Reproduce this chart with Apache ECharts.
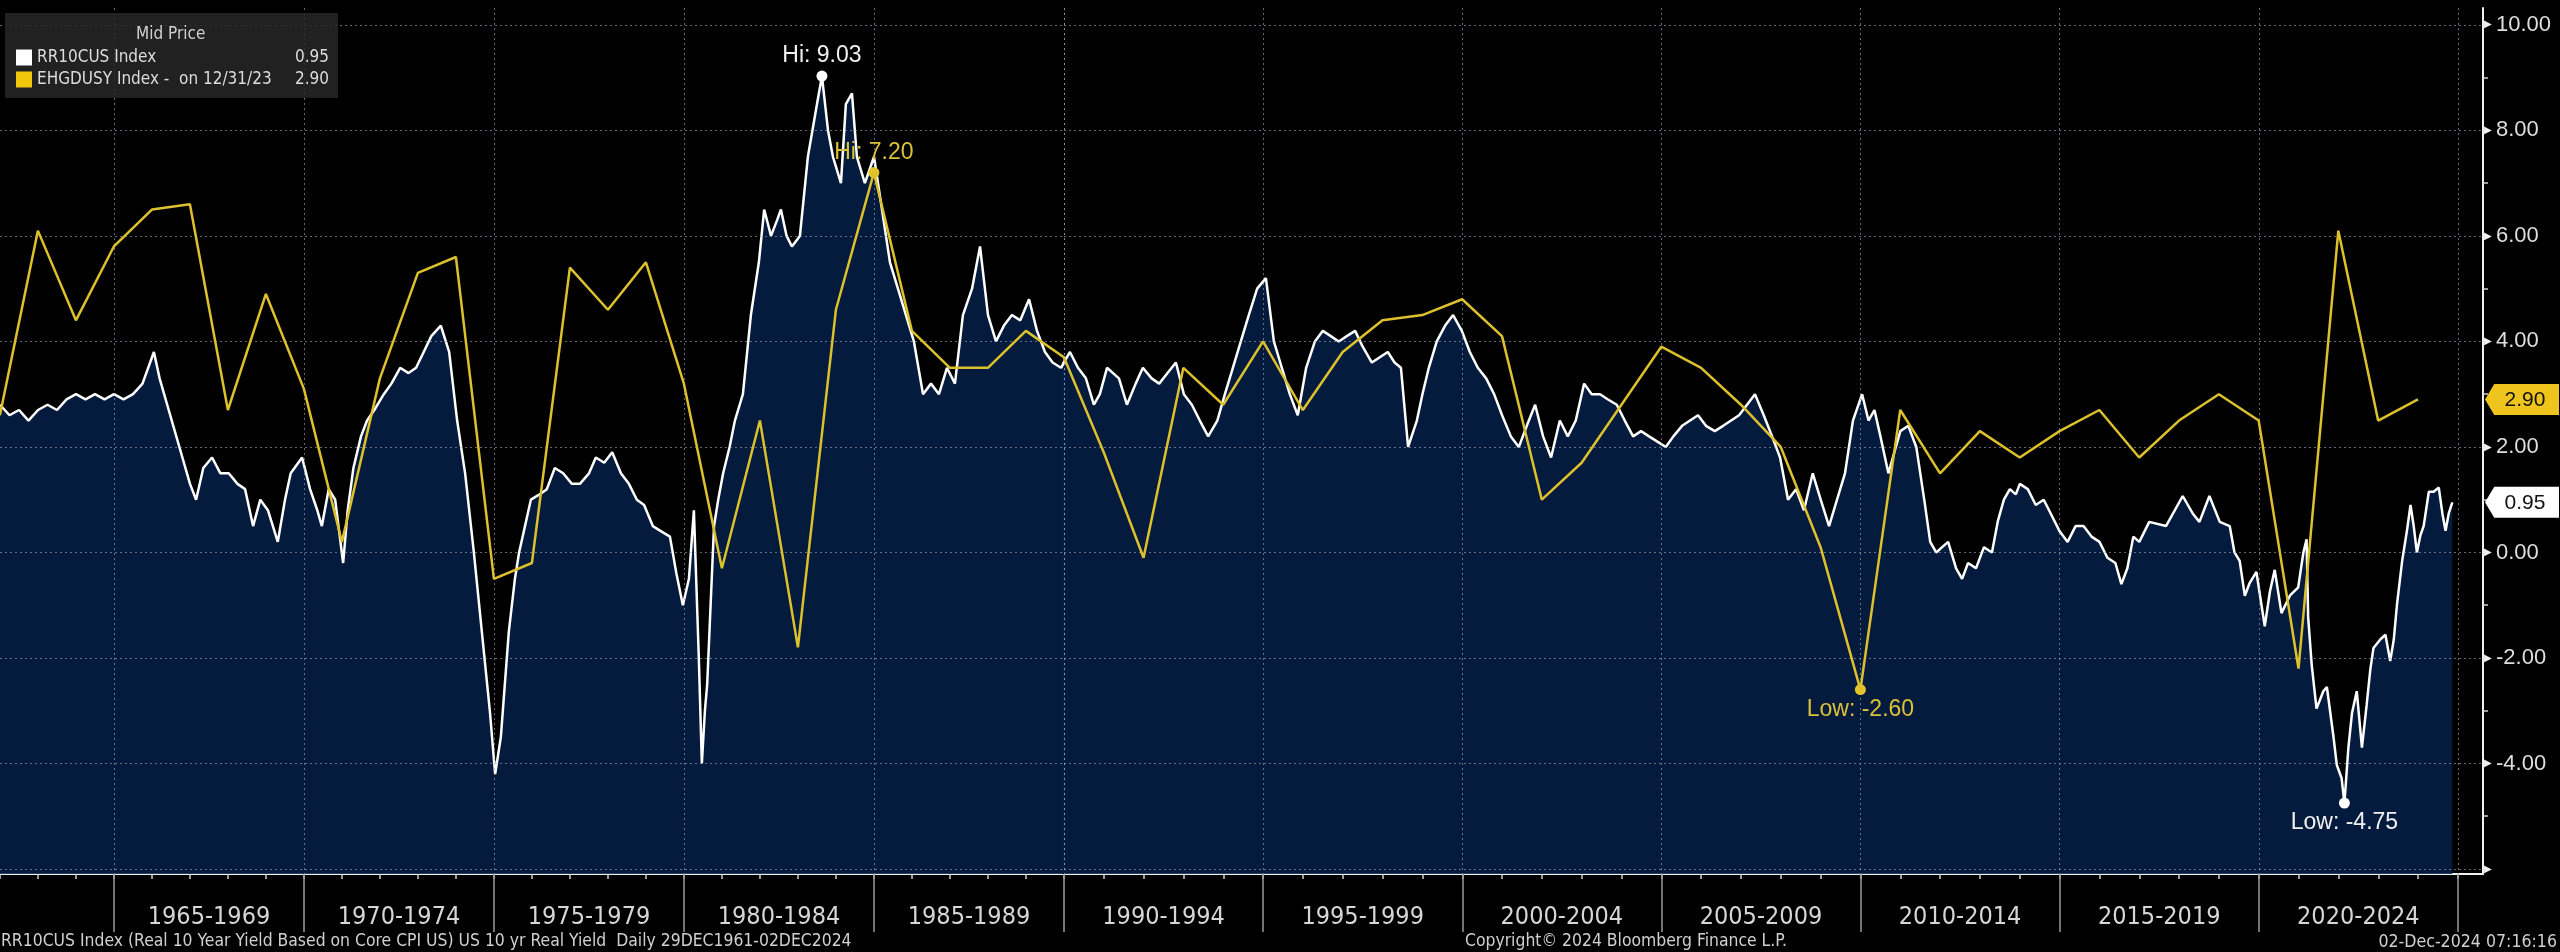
<!DOCTYPE html>
<html><head><meta charset="utf-8">
<script src="https://cdn.jsdelivr.net/npm/echarts@6/dist/echarts.min.js"></script>
<style>html,body{margin:0;padding:0;background:#000}#c{width:2560px;height:952px}</style>
</head><body><div id="c"></div>
<script>
// ---------- DATA ----------
const rrName = 'RR10CUS Index';
const gdpName = 'EHGDUSY Index -  on 12/31/23';
// RR10CUS: dates as decimal years
const rrDates = [
1962.00,1962.25,1962.50,1962.75,1963.00,1963.25,1963.50,1963.75,1964.00,1964.25,1964.50,1964.75,
1965.00,1965.25,1965.50,1965.75,1966.05,1966.20,1966.40,1966.60,1966.80,1967.00,1967.16,1967.35,
1967.58,1967.80,1968.02,1968.25,1968.45,1968.66,1968.85,1969.05,1969.31,1969.50,1969.65,1969.95,
1970.16,1970.35,1970.47,1970.65,1970.82,1971.03,1971.15,1971.30,1971.50,1971.66,1971.85,1972.10,
1972.30,1972.53,1972.75,1972.95,1973.15,1973.35,1973.60,1973.82,1974.03,1974.24,1974.47,1974.68,
1974.89,1975.03,1975.18,1975.39,1975.55,1975.66,1975.97,1976.20,1976.39,1976.60,1976.82,1977.05,
1977.26,1977.50,1977.68,1977.90,1978.11,1978.34,1978.55,1978.76,1978.95,1979.18,1979.40,1979.63,
1979.80,1979.97,1980.13,1980.26,1980.39,1980.47,1980.55,1980.61,1980.79,1980.90,1981.03,1981.20,
1981.34,1981.55,1981.76,1981.97,1982.11,1982.29,1982.45,1982.55,1982.70,1982.84,1983.05,1983.26,
1983.50,1983.63,1983.79,1983.92,1984.13,1984.26,1984.42,1984.55,1984.76,1985.00,1985.21,1985.42,
1985.63,1985.84,1986.05,1986.29,1986.50,1986.71,1986.92,1987.13,1987.34,1987.58,1987.79,1988.00,
1988.21,1988.42,1988.63,1988.85,1989.08,1989.29,1989.50,1989.70,1989.92,1990.15,1990.35,1990.55,
1990.75,1990.90,1991.08,1991.38,1991.58,1991.80,1991.98,1992.20,1992.39,1992.60,1992.81,1993.01,
1993.21,1993.41,1993.62,1993.85,1994.04,1994.24,1994.44,1994.64,1994.85,1995.07,1995.27,1995.47,
1995.67,1995.87,1996.08,1996.30,1996.50,1996.70,1996.90,1997.10,1997.31,1997.50,1997.73,1997.93,
1998.13,1998.30,1998.46,1998.64,1998.86,1999.00,1999.16,1999.36,1999.57,1999.77,1999.99,2000.19,
2000.39,2000.60,2000.80,2001.00,2001.22,2001.42,2001.62,2001.83,2002.03,2002.23,2002.45,2002.65,
2002.85,2003.06,2003.25,2003.46,2003.66,2003.88,2004.08,2004.29,2004.49,2004.69,2004.90,2005.11,
2005.30,2005.52,2005.72,2005.92,2006.12,2006.34,2006.55,2006.75,2006.95,2007.15,2007.35,2007.57,
2007.78,2007.98,2008.18,2008.38,2008.58,2008.80,2009.00,2009.21,2009.41,2009.61,2009.81,2010.04,
2010.20,2010.35,2010.50,2010.70,2010.85,2011.00,2011.20,2011.40,2011.60,2011.75,2011.90,2012.05,
2012.20,2012.40,2012.55,2012.70,2012.90,2013.10,2013.30,2013.45,2013.60,2013.75,2013.90,2014.00,
2014.20,2014.40,2014.60,2014.80,2015.00,2015.20,2015.40,2015.60,2015.80,2016.00,2016.20,2016.40,
2016.55,2016.70,2016.85,2017.00,2017.25,2017.67,2018.09,2018.34,2018.51,2018.76,2019.02,2019.27,
2019.39,2019.52,2019.65,2019.77,2019.94,2020.15,2020.28,2020.40,2020.57,2020.78,2020.99,2021.12,
2021.20,2021.24,2021.33,2021.45,2021.62,2021.71,2021.87,2021.96,2022.08,2022.15,2022.25,2022.34,
2022.46,2022.59,2022.71,2022.80,2022.88,2023.05,2023.18,2023.30,2023.39,2023.47,2023.60,2023.72,
2023.81,2023.89,2023.97,2024.06,2024.14,2024.27,2024.39,2024.52,2024.61,2024.69,2024.77,2024.86
];
const rrValues = [
2.8,2.6,2.7,2.5,2.7,2.8,2.7,2.9,3.0,2.9,3.0,2.9,
3.0,2.9,3.0,3.2,3.8,3.3,2.8,2.3,1.8,1.3,1.0,1.6,
1.8,1.5,1.5,1.3,1.2,0.5,1.0,0.8,0.2,1.0,1.5,1.8,
1.2,0.8,0.5,1.2,1.0,-0.2,0.8,1.6,2.2,2.5,2.7,3.0,
3.2,3.5,3.4,3.5,3.8,4.1,4.3,3.8,2.5,1.5,0.0,-1.5,
-3.0,-4.2,-3.5,-1.5,-0.5,0.0,1.0,1.1,1.2,1.6,1.5,1.3,
1.3,1.5,1.8,1.7,1.9,1.5,1.3,1.0,0.9,0.5,0.4,0.3,
-0.4,-1.0,-0.5,0.8,-2.0,-4.0,-3.0,-2.5,0.5,1.0,1.5,2.0,
2.5,3.0,4.5,5.5,6.5,6.0,6.3,6.5,6.0,5.8,6.0,7.5,
8.5,9.03,8.0,7.5,7.0,8.5,8.7,7.5,7.0,7.5,6.5,5.5,
5.0,4.5,4.0,3.0,3.2,3.0,3.5,3.2,4.5,5.0,5.8,4.5,
4.0,4.3,4.5,4.4,4.8,4.2,3.8,3.6,3.5,3.8,3.5,3.3,
2.8,3.0,3.5,3.3,2.8,3.2,3.5,3.3,3.2,3.4,3.6,3.0,
2.8,2.5,2.2,2.5,3.0,3.5,4.0,4.5,5.0,5.2,4.0,3.5,
3.0,2.6,3.5,4.0,4.2,4.1,4.0,4.1,4.2,3.9,3.6,3.7,
3.8,3.6,3.5,2.0,2.5,3.0,3.5,4.0,4.3,4.5,4.2,3.8,
3.5,3.3,3.0,2.6,2.2,2.0,2.4,2.8,2.2,1.8,2.5,2.2,
2.5,3.2,3.0,3.0,2.9,2.8,2.5,2.2,2.3,2.2,2.1,2.0,
2.2,2.4,2.5,2.6,2.4,2.3,2.4,2.5,2.6,2.8,3.0,2.6,
2.2,1.8,1.0,1.2,0.8,1.5,1.0,0.5,1.0,1.5,2.5,3.0,
2.5,2.7,2.2,1.5,1.9,2.3,2.4,2.0,1.0,0.2,0.0,0.1,
0.2,-0.3,-0.5,-0.2,-0.3,0.1,0.0,0.6,1.0,1.2,1.1,1.3,
1.2,0.9,1.0,0.7,0.4,0.2,0.5,0.5,0.3,0.2,-0.1,-0.2,
-0.6,-0.3,0.3,0.2,0.58,0.5,1.07,0.74,0.58,1.07,0.58,0.5,
0.0,-0.16,-0.82,-0.58,-0.37,-1.4,-0.74,-0.33,-1.15,-0.82,-0.66,0.0,
0.25,-1.23,-2.14,-2.96,-2.63,-2.55,-3.46,-4.03,-4.28,-4.75,-3.7,-3.05,
-2.63,-3.7,-2.88,-2.22,-1.81,-1.65,-1.56,-2.06,-1.65,-0.99,-0.16,0.41,
0.9,0.5,0.0,0.33,0.5,1.15,1.15,1.23,0.74,0.41,0.74,0.95
];
// EHGDUSY: annual values, each plotted on Dec 31 of its year
const gdpYears = [];
for (let y = 1961; y <= 2023; y++) gdpYears.push(y);
const gdpValues = [
2.6,6.1,4.4,5.8,6.5,6.6,2.7,4.9,3.1,0.2,3.3,5.3,5.6,-0.5,-0.2,5.4,4.6,5.5,3.2,-0.3,
2.5,-1.8,4.6,7.2,4.2,3.5,3.5,4.2,3.7,1.9,-0.1,3.5,2.8,4.0,2.7,3.8,4.4,4.5,4.8,4.1,
1.0,1.7,2.8,3.9,3.5,2.8,2.0,0.1,-2.6,2.7,1.5,2.3,1.8,2.3,2.7,1.8,2.5,3.0,2.5,-2.2,
6.1,2.5,2.9
];
const rangeLabels = ['1965-1969','1970-1974','1975-1979','1980-1984','1985-1989','1990-1994',
  '1995-1999','2000-2004','2005-2009','2010-2014','2015-2019','2020-2024'];
const yLabelValues = [-6,-4,-2,0,2,4,6,8,10];
const yMinorValues = [-5,-3,-1,1,3,5,7,9];

// ---------- LAYOUT / STYLE ----------
const NARROW = "'DejaVu Sans Condensed','Liberation Sans Narrow',sans-serif";
const SANS = "'Liberation Sans',Arial,sans-serif";
const SPLIT = 1990;
const X0_MIN = 1962, X1_MAX = 2025.63;
const Y_MIN = -6.095, Y_MAX = 10.32;
const TOP = 8, BOTTOM = 952 - 874;
const GRID_SPLIT_PX = 1064, RIGHT_PX = 2483;
const WHITE = '#ffffff', YELLOW = '#dcc12c', YELLOW_TAG = '#efc41c';
const GRIDLINE = {color: 'rgba(165,172,185,0.6)', type: [2, 3], width: 1};

const gdpDates = gdpYears.map(y => y + 364 / 365);
function part(xs, ys, lo, hi) {
  const out = [];
  const inR = i => i >= 0 && i < xs.length && xs[i] >= lo && xs[i] <= hi;
  for (let i = 0; i < xs.length; i++) {
    if (inR(i) || inR(i - 1) || inR(i + 1)) out.push([xs[i], ys[i]]);
  }
  return out;
}
const years0 = [], years1 = [];
for (let y = 1962; y <= 1990; y++) years0.push(y);
for (let y = 1990; y <= 2025; y++) years1.push(y);
const major0 = years0.filter(y => y % 5 === 0 && y >= 1965);
const major1 = years1.filter(y => y % 5 === 0);
const centers = rangeLabels.map(s => +s.slice(0, 4) + 2.5);
const centers0 = centers.filter(c => c < SPLIT), centers1 = centers.filter(c => c > SPLIT);
const labelFmt = v => rangeLabels[Math.round((v - centers[0]) / 5)];

const rrLast = rrValues[rrValues.length - 1];
const gdpLast = gdpValues[gdpValues.length - 1];

function minorAxis(gi, customValues) {
  return {
    type: 'value', gridIndex: gi, position: 'bottom',
    min: gi === 0 ? X0_MIN : SPLIT, max: gi === 0 ? SPLIT : X1_MAX,
    axisLine: {show: true, onZero: false, lineStyle: {color: '#f0f0f0', width: 2}},
    axisTick: {show: true, customValues, length: 5, lineStyle: {color: '#d0d0d0', width: 1.5}},
    axisLabel: {show: false}, splitLine: {show: false}
  };
}
function majorAxis(gi, tickValues, labelValues) {
  return {
    type: 'value', gridIndex: gi, position: 'bottom', z: 3,
    min: gi === 0 ? X0_MIN : SPLIT, max: gi === 0 ? SPLIT : X1_MAX,
    splitNumber: gi === 0 ? 6 : 7,
    axisLine: {show: false, onZero: false},
    axisTick: {show: true, customValues: tickValues, length: 58, lineStyle: {color: '#9a9a9a', width: 1.5}},
    axisLabel: {show: true, customValues: labelValues, formatter: labelFmt, margin: 31,
      color: '#d6d6d6', fontSize: 25, fontFamily: NARROW},
    splitLine: {show: true, lineStyle: GRIDLINE}
  };
}
function tagPoint(value, bg) {
  return {
    coord: [X1_MAX, value], value: value,
    symbol: 'path://M0,15 L10,0 L80,0 L80,30 L10,30 Z',
    symbolSize: [74, 31], symbolOffset: [39, 0],
    itemStyle: {color: bg},
    label: {show: true, position: 'inside', offset: [3, 1], formatter: value.toFixed(2),
      color: '#111', fontSize: 21, fontFamily: SANS}
  };
}
function hiLow(type, color, prefix, pos) {
  return {
    type, symbol: 'circle', symbolSize: 11, itemStyle: {color},
    label: {show: true, position: pos, distance: 3, color: color === WHITE ? '#f0f0f0' : '#d9c23a',
      fontSize: 23, fontFamily: SANS,
      formatter: p => prefix + p.value.toFixed(2)}
  };
}
const footStyle = size => ({color: '#d0d0d0', fontSize: size, fontWeight: 'normal', fontFamily: NARROW});

const chart = echarts.init(document.getElementById('c'), null, {renderer: 'canvas'});
chart.setOption({
  backgroundColor: '#000',
  animation: false,
  title: [
    {text: 'Mid Price', left: 136, top: 26, padding: 0, textStyle: footStyle(17)},
    {text: 'RR10CUS Index (Real 10 Year Yield Based on Core CPI US) US 10 yr Real Yield  Daily 29DEC1961-02DEC2024',
      left: 1, top: 933, padding: 0, textStyle: footStyle(17.4)},
    {text: 'Copyright\u00a9 2024 Bloomberg Finance L.P.', left: 1465, top: 933, padding: 0, textStyle: footStyle(17.4)},
    {text: '02-Dec-2024 07:16:16', right: 3, top: 933, padding: 0, textStyle: footStyle(17.6)}
  ],
  legend: {
    orient: 'vertical', left: 5, top: 13, padding: [36, 9, 10, 11], itemGap: 5,
    itemWidth: 16, itemHeight: 16, icon: 'rect',
    backgroundColor: 'rgba(40,40,40,0.82)',
    data: [{name: rrName, itemStyle: {color: WHITE}}, {name: gdpName, itemStyle: {color: '#f2c80f'}}],
    formatter: n => '{n|' + n + '}{v|' + (n === rrName ? rrLast : gdpLast).toFixed(2) + '}',
    textStyle: {color: '#dcdcdc', fontSize: 17, fontFamily: NARROW,
      rich: {n: {width: 250, fontSize: 17, fontFamily: NARROW, color: '#dcdcdc'},
             v: {width: 42, align: 'right', fontSize: 17, fontFamily: NARROW, color: '#dcdcdc'}}}
  },
  grid: [
    {left: 0, top: TOP, width: GRID_SPLIT_PX, bottom: BOTTOM},
    {left: GRID_SPLIT_PX, top: TOP, width: RIGHT_PX - GRID_SPLIT_PX, bottom: BOTTOM}
  ],
  xAxis: [
    minorAxis(0, years0),
    majorAxis(0, major0, centers0),
    minorAxis(1, years1),
    majorAxis(1, major1, centers1)
  ],
  yAxis: [
    {type: 'value', gridIndex: 0, min: Y_MIN, max: Y_MAX, z: 3, position: 'left',
      axisLine: {show: false}, axisLabel: {show: false},
      axisTick: {show: false, customValues: yLabelValues},
      splitLine: {show: true, lineStyle: GRIDLINE}},
    {type: 'value', gridIndex: 1, min: Y_MIN, max: Y_MAX, position: 'right',
      axisLine: {show: true, lineStyle: {color: '#f0f0f0', width: 2}},
      axisTick: {show: true, customValues: yMinorValues, length: 5, lineStyle: {color: '#cfcfcf', width: 1.5}},
      axisLabel: {show: true, customValues: yLabelValues, margin: 1,
        formatter: v => v === -6 ? '{t|\u25B6}' : '{t|\u25B6}{v|' + v.toFixed(2) + '}',
        rich: {t: {fontSize: 10, color: '#f0f0f0', width: 12, fontFamily: 'DejaVu Sans'},
               v: {fontSize: 22, color: '#dedede', fontFamily: SANS}}},
      splitLine: {show: false}},
    {type: 'value', gridIndex: 1, min: Y_MIN, max: Y_MAX, z: 3, position: 'right',
      axisLine: {show: false}, axisLabel: {show: false},
      axisTick: {show: false, customValues: yLabelValues},
      splitLine: {show: true, lineStyle: GRIDLINE}}
  ],
  series: [0, 1].flatMap(gi => {
    const lo = gi === 0 ? X0_MIN : SPLIT, hi = gi === 0 ? SPLIT : X1_MAX;
    return [
      {
        name: rrName, type: 'line', xAxisIndex: gi * 2, yAxisIndex: gi, z: 2,
        data: part(rrDates, rrValues, lo, hi), showSymbol: false, symbol: 'none',
        lineStyle: {color: WHITE, width: 2.5}, itemStyle: {color: WHITE},
        areaStyle: {color: '#062048', opacity: 0.86, origin: 'start'},
        markPoint: {silent: true, data: gi === 0
          ? [hiLow('max', WHITE, 'Hi: ', 'top')]
          : [hiLow('min', WHITE, 'Low: ', 'bottom'), tagPoint(rrLast, '#ffffff')]}
      },
      {
        name: gdpName, type: 'line', xAxisIndex: gi * 2, yAxisIndex: gi, z: 5,
        data: part(gdpDates, gdpValues, lo, hi), showSymbol: false, symbol: 'none',
        lineStyle: {color: YELLOW, width: 2.5}, itemStyle: {color: YELLOW},
        markPoint: {silent: true, data: gi === 0
          ? [hiLow('max', '#e3c52a', 'Hi: ', 'top')]
          : [hiLow('min', '#e3c52a', 'Low: ', 'bottom'), tagPoint(gdpLast, YELLOW_TAG)]}
      }
    ];
  })
});
</script>
</body></html>
